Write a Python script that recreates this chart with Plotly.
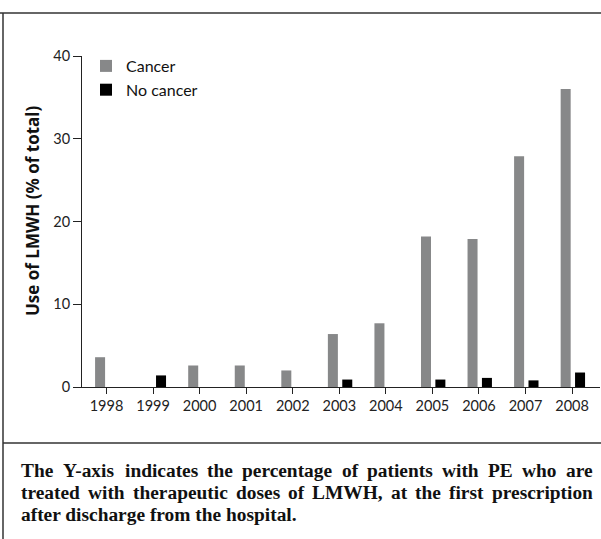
import plotly.graph_objects as go

# ---- data ----
years = [1998, 1999, 2000, 2001, 2002, 2003, 2004, 2005, 2006, 2007, 2008]
year_labels = ["1998", "1999", "2000", "2001", "2002", "2003", "2004", "2005", "2006", "2007", "2008"]
cancer = [3.6, 0, 2.6, 2.6, 2.0, 6.4, 7.7, 18.2, 17.9, 27.9, 36.0]
no_cancer = [0, 1.4, 0, 0, 0, 0.9, 0, 0.9, 1.1, 0.8, 1.75]
y_ticks = [0, 10, 20, 30, 40]
y_title = "Use of LMWH (% of total)"
caption_line1 = "The Y-axis indicates the percentage of patients with PE who are"
caption_line2 = "treated with therapeutic doses of LMWH, at the first prescription"
caption_line3 = "after discharge from the hospital."

# ---- layout geometry (pixels) ----
W, H = 601, 539
ML, MR, MT, MB = 82, 1, 56, 152
PW = W - ML - MR
PH = H - MT - MB


def px_x(px):
    return (px - ML) / PW


def px_y(py):
    return (H - MB - py) / PH


# Times/Liberation Serif Bold advance widths (1/1000 em) for justifying the caption
_TW = {" ": 250, ",": 250, ".": 250, "-": 333,
       "A": 722, "E": 667, "H": 778, "L": 667, "M": 944, "P": 611, "T": 667, "W": 1000, "Y": 722,
       "a": 500, "b": 556, "c": 444, "d": 556, "e": 444, "f": 333, "g": 500, "h": 556, "i": 278,
       "j": 333, "k": 556, "l": 278, "m": 833, "n": 556, "o": 500, "p": 556, "q": 556, "r": 444,
       "s": 389, "t": 333, "u": 556, "v": 500, "w": 722, "x": 500, "y": 500, "z": 444}
CAP_SIZE = 19.4


def word_w(word):
    return sum(_TW.get(c, 500) for c in word) * CAP_SIZE / 1000.0


fig = go.Figure()
fig.add_trace(go.Bar(
    x=years, y=cancer, name="Cancer",
    marker=dict(color="#878889", line=dict(width=0)),
    width=0.215, offset=-0.245, legendgroup="a",
))
fig.add_trace(go.Bar(
    x=years, y=no_cancer, name="No cancer",
    marker=dict(color="#000000", line=dict(width=0)),
    width=0.215, offset=0.064, legendgroup="b",
))

tick_font = dict(family="Lato, Open Sans, sans-serif", size=14.5, color="#222222")

annotations = [
    dict(text="<b>" + y_title + "</b>", xref="paper", yref="paper",
         x=px_x(32), y=px_y(211), textangle=-90, showarrow=False,
         xanchor="center", yanchor="middle",
         font=dict(family="Open Sans, Lato, sans-serif", size=17, color="#111111")),
]

serif = dict(family="Liberation Serif, Times New Roman, serif", size=CAP_SIZE, color="#111111")
LEFT, RIGHT = 20, 592


def justified(line, ypx):
    words = line.split(" ")
    widths = [word_w(w) for w in words]
    gap = (RIGHT - LEFT - sum(widths)) / (len(words) - 1)
    x = LEFT
    out = []
    for w, wd in zip(words, widths):
        out.append(dict(text="<b>" + w + "</b>", xref="paper", yref="paper",
                        x=px_x(x), y=px_y(ypx), showarrow=False,
                        xanchor="left", yanchor="middle", font=serif, borderpad=0))
        x += wd + gap
    return out


annotations += justified(caption_line1, 470)
annotations += justified(caption_line2, 492)
annotations.append(dict(text="<b>" + caption_line3 + "</b>", xref="paper", yref="paper",
                        x=px_x(LEFT), y=px_y(514), showarrow=False,
                        xanchor="left", yanchor="middle", font=serif, borderpad=0))

frame = dict(color="#333333", width=1.5)
shapes = [
    dict(type="line", xref="paper", yref="paper", x0=px_x(0), x1=px_x(W), y0=px_y(13), y1=px_y(13), line=frame),
    dict(type="line", xref="paper", yref="paper", x0=px_x(3), x1=px_x(3), y0=px_y(13), y1=px_y(H), line=frame),
    dict(type="line", xref="paper", yref="paper", x0=px_x(3), x1=px_x(W), y0=px_y(443), y1=px_y(443), line=frame),
]

fig.update_layout(
    width=W, height=H,
    margin=dict(l=ML, r=MR, t=MT, b=MB, pad=0),
    paper_bgcolor="white", plot_bgcolor="white",
    barmode="overlay",
    showlegend=True,
    legend=dict(x=px_x(86), y=px_y(49), xanchor="left", yanchor="top",
                font=dict(family="Lato, Open Sans, sans-serif", size=16, color="#111111"),
                bgcolor="rgba(0,0,0,0)", tracegroupgap=6, traceorder="normal"),
    xaxis=dict(range=[1997.474, 2008.6], tickmode="array", tickvals=years, ticktext=year_labels,
               showline=True, linecolor="#222222", linewidth=1, ticks="outside", ticklen=6,
               tickcolor="#222222", showgrid=False, zeroline=False, tickfont=tick_font,
               fixedrange=True),
    yaxis=dict(range=[0, 40], tickmode="array", tickvals=y_ticks,
               showline=True, linecolor="#222222", linewidth=1, ticks="outside", ticklen=8,
               tickcolor="#222222", showgrid=False, zeroline=False, tickfont=tick_font,
               fixedrange=True),
    annotations=annotations,
    shapes=shapes,
)

fig.write_html("out.html", config={"displayModeBar": False},
               post_script="document.body.style.margin='0';document.body.style.overflow='hidden';")
